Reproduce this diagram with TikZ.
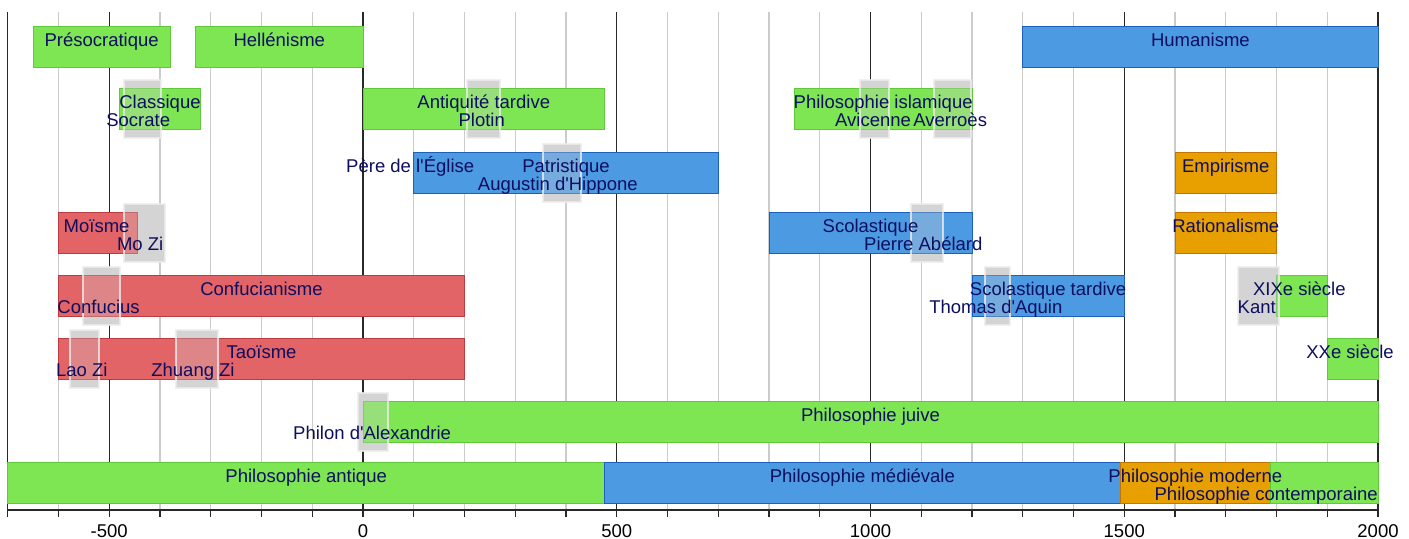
\documentclass[tikz,border=0pt]{standalone}
\usepackage{fontspec}
\setmainfont{Liberation Sans}
\definecolor{gfill}{RGB}{126,230,82}
\definecolor{gedge}{RGB}{96,200,58}
\definecolor{bfill}{RGB}{76,154,226}
\definecolor{bedge}{RGB}{28,96,188}
\definecolor{rfill}{RGB}{226,100,102}
\definecolor{redge}{RGB}{186,60,64}
\definecolor{ofill}{RGB}{232,160,0}
\definecolor{oedge}{RGB}{196,116,0}
\definecolor{pfill}{RGB}{212,212,212}
\definecolor{pedge}{RGB}{236,236,236}
\definecolor{txt}{RGB}{14,14,96}
\definecolor{minorc}{RGB}{204,204,204}
\definecolor{majorc}{RGB}{40,40,40}
\pgfdeclarelayer{grid}
\pgfdeclarelayer{pers}
\pgfdeclarelayer{over}
\pgfdeclarelayer{fg}
\pgfsetlayers{grid,pers,main,over,fg}
\tikzset{
  gbar/.style={fill=gfill,draw=gedge,line width=1pt},
  bbar/.style={fill=bfill,draw=bedge,line width=1pt},
  rbar/.style={fill=rfill,draw=redge,line width=1pt},
  obar/.style={fill=ofill,draw=oedge,line width=1pt},
  pbox/.style={fill=pfill},
  pover/.style={fill=pfill,fill opacity=0.3,draw=pedge,draw opacity=0.8,line width=2pt},
  minorline/.style={draw=minorc,line width=1.2pt},
  majorline/.style={draw=majorc,line width=1.2pt},
  lab/.style={text=txt,font=\fontsize{18.5}{18}\selectfont,inner sep=0pt,anchor=base},
  ticklab/.style={text=black,font=\fontsize{18.5}{18}\selectfont,inner sep=0pt,anchor=base},
}
\newcommand\pbar[4]{\path[#1] (#2,#4) rectangle (#3,{#4+41});}
\newcommand\person[3]{%
  \begin{pgfonlayer}{pers}\path[pbox] (#1,{#3-8}) rectangle (#2,{#3+50});\end{pgfonlayer}%
  \begin{pgfonlayer}{over}\path[pover] (#1,{#3-8}) rectangle (#2,{#3+50});\end{pgfonlayer}}
\newcommand\ap{\textquotesingle}
\begin{document}
\begin{tikzpicture}[x=0.5075pt,y=-1pt]
\useasboundingbox (-715.27,0) rectangle (2061.08,539);
\begin{pgfonlayer}{grid}
  \foreach \t in {-700,-600,...,2000} {
    \draw[minorline] (\t,12) -- (\t,510);
    \draw[majorline] (\t,510) -- (\t,517);
  }
  \foreach \t in {-700,-500,0,500,1000,1500,2000} {
    \draw[majorline] (\t,12) -- (\t,510);
  }
  \draw[majorline] (-700,510) -- (2000,510);
\end{pgfonlayer}
% row 1
\pbar{gbar}{-650}{-380}{26}
\pbar{gbar}{-330}{0}{26}
\pbar{bbar}{1300}{2000}{26}
% row 2
\person{-470}{-399}{88}
\pbar{gbar}{-480}{-320}{88}
\person{205}{270}{88}
\pbar{gbar}{0}{476}{88}
\person{980}{1037}{88}
\person{1126}{1198}{88}
\pbar{gbar}{850}{1200}{88}
% row 3
\person{354}{430}{152}
\pbar{bbar}{100}{700}{152}
\pbar{obar}{1600}{1800}{152}
% row 4
\person{-470}{-391}{212}
\pbar{rbar}{-600}{-445}{212}
\person{1079}{1142}{212}
\pbar{bbar}{800}{1200}{212}
\pbar{obar}{1600}{1800}{212}
% row 5
\person{-551}{-479}{275}
\pbar{rbar}{-600}{200}{275}
\person{1225}{1274}{275}
\pbar{bbar}{1200}{1500}{275}
\person{1724}{1804}{275}
\pbar{gbar}{1800}{1900}{275}
% row 6
\person{-577}{-520}{338}
\person{-369}{-286}{338}
\pbar{rbar}{-600}{200}{338}
\pbar{gbar}{1900}{2000}{338}
% row 7
\person{-10}{50}{401}
\pbar{gbar}{0}{2000}{401}
% row 8
\pbar{gbar}{-700}{476}{462}
\pbar{bbar}{476}{1492}{462}
\pbar{obar}{1492}{1789}{462}
\pbar{gbar}{1789}{2000}{462}
\begin{pgfonlayer}{fg}
  \node[lab] (presocratique) at (-515,46) {Présocratique};
  \node[lab] (hellenisme) at (-165,46) {Hellénisme};
  \node[lab] (humanisme) at (1650,46) {Humanisme};
  \node[lab] (classique) at (-400,108) {Classique};
  \node[lab] (socrate) at (-443,126) {Socrate};
  \node[lab] (antiquite) at (238,108) {Antiquité tardive};
  \node[lab] (plotin) at (234,126) {Plotin};
  \node[lab] (islamique) at (1025,108) {Philosophie islamique};
  \node[lab] (avicenne) at (1005,126) {Avicenne};
  \node[lab] (averroes) at (1157,126) {Averroès};
  \node[lab] (patristique) at (400,172) {Patristique};
  \node[lab] (pereeglise) at (93,172) {Père de l\ap Église};
  \node[lab] (augustin) at (384,190) {Augustin d\ap Hippone};
  \node[lab] (empirisme) at (1700,172) {Empirisme};
  \node[lab] (moisme) at (-525,232) {Moïsme};
  \node[lab] (mozi) at (-439,250) {Mo Zi};
  \node[lab] (scolastique) at (1000,232) {Scolastique};
  \node[lab] (abelard) at (1104,250) {Pierre Abélard};
  \node[lab] (rationalisme) at (1700,232) {Rationalisme};
  \node[lab] (confucianisme) at (-200,295) {Confucianisme};
  \node[lab] (confucius) at (-521,313) {Confucius};
  \node[lab] (scoltardive) at (1350,295) {Scolastique tardive};
  \node[lab] (aquin) at (1247,313) {Thomas d\ap Aquin};
  \node[lab] (xix) at (1845,295) {XIXe siècle};
  \node[lab] (kant) at (1761,313) {Kant};
  \node[lab] (taoisme) at (-200,358) {Taoïsme};
  \node[lab] (laozi) at (-554,376) {Lao Zi};
  \node[lab] (zhuangzi) at (-335,376) {Zhuang Zi};
  \node[lab] (xx) at (1945,358) {XXe siècle};
  \node[lab] (juive) at (1000,421) {Philosophie juive};
  \node[lab] (philon) at (18,439) {Philon d\ap Alexandrie};
  \node[lab] (antique) at (-112,482) {Philosophie antique};
  \node[lab] (medievale) at (984,482) {Philosophie médiévale};
  \node[lab] (moderne) at (1640,482) {Philosophie moderne};
  \node[lab,anchor=base east] (contemporaine) at (2000,500) {Philosophie contemporaine};
  \node[ticklab] (tm500) at (-500,537) {-500};
  \node[ticklab] (t0) at (0,537) {0};
  \node[ticklab] (t500) at (500,537) {500};
  \node[ticklab] (t1000) at (1000,537) {1000};
  \node[ticklab] (t1500) at (1500,537) {1500};
  \node[ticklab] (t2000) at (2000,537) {2000};
\end{pgfonlayer}
\end{tikzpicture}
\end{document}
